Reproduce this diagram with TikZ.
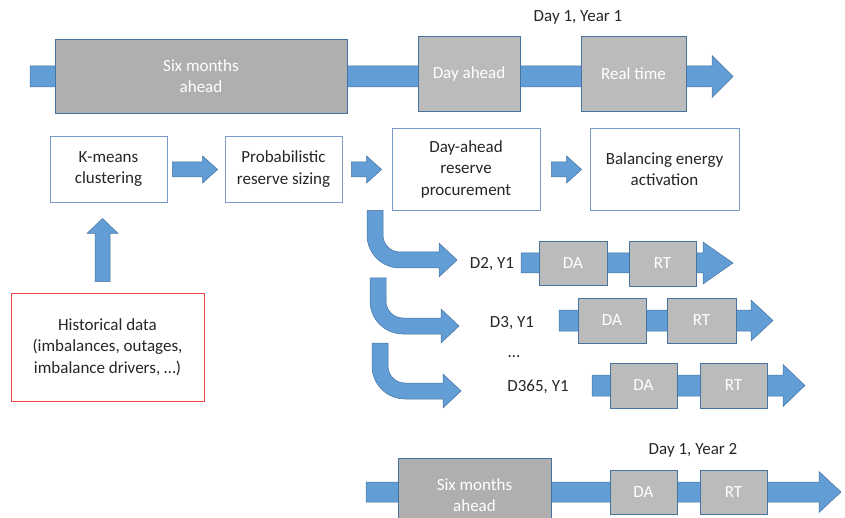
\documentclass[tikz,border=0pt]{standalone}
\usepackage{fontspec}
\setmainfont{Carlito}
\usetikzlibrary{calc}
\definecolor{arrowblue}{RGB}{98,157,213}
\definecolor{arrowedge}{RGB}{70,115,160}
\definecolor{boxgray}{RGB}{175,175,175}
\definecolor{boxlight}{RGB}{187,187,187}
\definecolor{stepedge}{RGB}{120,155,200}
\definecolor{dataedge}{RGB}{240,70,70}
\definecolor{textdark}{RGB}{38,38,38}
\tikzstyle{Phase}=[draw=arrowedge, fill=boxgray, line width=0.6pt, text=white, inner sep=0pt, align=center]
\tikzstyle{Slot}=[Phase, fill=boxlight]
\tikzstyle{Step}=[draw=stepedge, fill=white, line width=0.8pt, text=textdark, inner sep=0pt, align=center]
\tikzstyle{Data}=[Step, draw=dataedge]
\tikzstyle{Label}=[text=textdark, inner sep=0pt]
\tikzstyle{BlockArrow}=[fill=arrowblue, draw=arrowedge, line width=0.5pt, line join=miter]
\pgfdeclarelayer{arrowlayer}
\pgfdeclarelayer{boxlayer}
\pgfsetlayers{arrowlayer,boxlayer,main}
% straight block arrow: from, to, shaft half width, head half width, head length
\newcommand{\blockarrow}[5]{%
  \coordinate (hb) at ($(#2)!#5!(#1)$);
  \draw[BlockArrow] ($(#1)!#3!90:(#2)$) -- ($(hb)!#3!90:(#2)$) -- ($(hb)!#4!90:(#2)$) -- (#2)
    -- ($(hb)!#4!-90:(#2)$) -- ($(hb)!#3!-90:(#2)$) -- ($(#1)!#3!-90:(#2)$) -- cycle;
}
% bent block arrow: top of the shaft, tip
\newcommand{\bentarrow}[2]{%
  \draw[BlockArrow] ($(#1)+(-8,0)$) [rounded corners=33pt] -- ($(#1 |- #2)+(-8,8)$) [sharp corners]
    -- ($(#2)+(-18,8)$) -- ($(#2)+(-18,17)$) -- (#2) -- ($(#2)+(-18,-17)$) -- ($(#2)+(-18,-8)$)
    [rounded corners=17pt] -- ($(#1 |- #2)+(8,-8)$) [sharp corners] -- ($(#1)+(8,0)$) -- cycle;
}

\begin{document}
\begin{tikzpicture}[x=1pt, y=-1pt, font=\fontsize{17}{21.5}\selectfont]
	\useasboundingbox (0,0) rectangle (845,518);
	\begin{pgfonlayer}{boxlayer}
		% year 1
		\node [style=Label] (year1) at (578,17) {Day 1, Year 1};
		\node [style=Phase, minimum width=292pt, minimum height=74pt] (sixmonths) at (201,76) {Six months\\ahead};
		\node [style=Phase, fill=boxlight, minimum width=102pt, minimum height=75pt] (dayahead) at (469,73.5) {Day ahead};
		\node [style=Phase, fill=boxlight, minimum width=105pt, minimum height=75pt] (realtime) at (633.5,73.5) {Real time};

		% method steps
		\node [style=Step, minimum width=117pt, minimum height=66pt] (kmeans) at (108.5,169) {K-means\\clustering};
		\node [style=Step, minimum width=117pt, minimum height=66pt] (prob) at (283.5,169) {Probabilistic\\reserve sizing};
		\node [style=Step, minimum width=148pt, minimum height=82pt] (dares) at (466,169) {Day-ahead\\reserve\\procurement};
		\node [style=Step, minimum width=149pt, minimum height=82pt] (bal) at (664.5,169) {Balancing energy\\activation};
		\node [style=Data, minimum width=193pt, minimum height=108pt] (hist) at (107.5,347) {Historical data\\(imbalances, outages,\\imbalance drivers, …)};

		% following days
		\node [style=Label] (d2) at (492,264) {D2, Y1};
		\node [style=Slot, minimum width=68pt, minimum height=44pt] (da2) at (573,263) {DA};
		\node [style=Slot, minimum width=67pt, minimum height=45pt] (rt2) at (662.5,263.5) {RT};
		\node [style=Label] (d3) at (512,323) {D3, Y1};
		\node [style=Slot, minimum width=68pt, minimum height=45pt] (da3) at (612,320.5) {DA};
		\node [style=Slot, minimum width=69pt, minimum height=45pt] (rt3) at (701.5,320.5) {RT};
		\node [style=Label, anchor=base] (dots) at (514,357) {…};
		\node [style=Label] (d365) at (538,387) {D365, Y1};
		\node [style=Slot, minimum width=67pt, minimum height=45pt] (da365) at (643.5,385.5) {DA};
		\node [style=Slot, minimum width=67pt, minimum height=45pt] (rt365) at (733.5,385.5) {RT};

		% year 2
		\node [style=Label] (year2) at (693,450) {Day 1, Year 2};
		\node [style=Phase, minimum width=153pt, minimum height=74pt] (sixmonths2) at (474.5,495) {Six months\\ahead};
		\node [style=Slot, minimum width=67pt, minimum height=44pt] (da2y) at (643.5,492) {DA};
		\node [style=Slot, minimum width=67pt, minimum height=44pt] (rt2y) at (733.5,492.5) {RT};
	\end{pgfonlayer}
	\begin{pgfonlayer}{arrowlayer}
		\coordinate (y1start) at (30,76.5);
		\coordinate (y1end) at (733,76.5);
		\blockarrow{y1start}{y1end}{10.5pt}{21pt}{21pt}

		\coordinate (kmout) at ($(kmeans.east)+(5,0.5)$);
		\coordinate (probin) at ($(prob.west)+(-7,0.5)$);
		\blockarrow{kmout}{probin}{7.5pt}{13.5pt}{15pt}
		\coordinate (probout) at ($(prob.east)+(9,0.5)$);
		\coordinate (daresin) at ($(dares.west)+(-10,0.5)$);
		\blockarrow{probout}{daresin}{7.5pt}{13.5pt}{15pt}
		\coordinate (daresout) at ($(dares.east)+(11,0.5)$);
		\coordinate (balin) at ($(bal.west)+(-8,0.5)$);
		\blockarrow{daresout}{balin}{7.5pt}{13.5pt}{15pt}

		\coordinate (histout) at ($(hist.north)+(-5,-11)$);
		\coordinate (kmin) at ($(kmeans.south)+(-6,16)$);
		\blockarrow{histout}{kmin}{7.5pt}{15.5pt}{15pt}

		\coordinate (bend1) at ($(dares.south)+(-91,0)$);
		\coordinate (bend1tip) at (457,260);
		\bentarrow{bend1}{bend1tip}
		\coordinate (bend2) at (378,278);
		\coordinate (bend2tip) at (459,326);
		\bentarrow{bend2}{bend2tip}
		\coordinate (bend3) at (380,343);
		\coordinate (bend3tip) at (461,391);
		\bentarrow{bend3}{bend3tip}

		\coordinate (d2start) at (521,263);
		\coordinate (d2end) at (733,263);
		\blockarrow{d2start}{d2end}{10pt}{21pt}{30pt}
		\coordinate (d3start) at (559,320.5);
		\coordinate (d3end) at (773,320.5);
		\blockarrow{d3start}{d3end}{10.5pt}{20.5pt}{22pt}
		\coordinate (d365start) at (592,385.5);
		\coordinate (d365end) at (805,385.5);
		\blockarrow{d365start}{d365end}{10.5pt}{21pt}{22pt}

		\coordinate (y2start) at (366,492);
		\coordinate (y2end) at (841,492);
		\blockarrow{y2start}{y2end}{10pt}{20.5pt}{22pt}
	\end{pgfonlayer}
\end{tikzpicture}
\end{document}
